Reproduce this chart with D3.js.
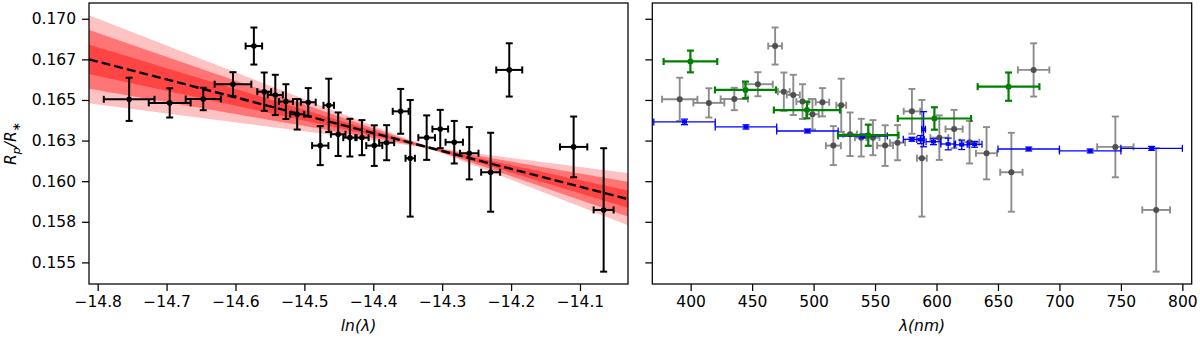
<!DOCTYPE html>
<html>
<head>
<meta charset="utf-8">
<script src="https://cdn.jsdelivr.net/npm/d3@7"></script>
<style>
  body { margin: 0; background: #fff; }
  text { font-family: "DejaVu Sans", sans-serif; }
</style>
</head>
<body>
<div id="chart"></div>
<script>
/*
 * Data
 */

// transit depth per spectral bin (nm, half width nm, Rp/R*, error)
const wavelength = [391.1, 414.8, 435.5, 454.7, 468.7, 475.8, 483.5, 491.0, 499.1, 507.2,
  516.1, 522.5, 529.7, 538.8, 548.3, 558.2, 568.3, 580.0, 588.1, 602.3,
  614.3, 626.9, 640.7, 660.9, 679.0, 745.5, 778.7]
const binHalf = [14.4, 12.6, 11.1, 12.1, 5.6, 4.8, 5.3, 5.0, 5.1, 5.5,
  6.1, 4.0, 5.6, 5.2, 5.3, 6.5, 6.2, 6.7, 4.0, 7.3,
  7.0, 7.9, 8.6, 9.1, 12.8, 14.8, 11.3]
const radius = [0.16504, 0.16482, 0.16506, 0.16597, 0.16832, 0.16551, 0.16531, 0.16490, 0.16412, 0.16486,
  0.16219, 0.16467, 0.16289, 0.16268, 0.16268, 0.16219, 0.16237, 0.16430, 0.16141, 0.16268,
  0.16321, 0.16240, 0.16172, 0.16055, 0.16685, 0.16211, 0.15823]
const radiusErr = [0.00133, 0.00090, 0.00069, 0.00074, 0.00114, 0.00118, 0.00124, 0.00107, 0.00094, 0.00087,
  0.00120, 0.00164, 0.00134, 0.00116, 0.00108, 0.00125, 0.00108, 0.00138, 0.00359, 0.00137,
  0.00118, 0.00131, 0.00161, 0.00243, 0.00164, 0.00187, 0.00380]

// blue comparison set
const blueWl = [395, 445, 495, 540, 580, 587, 589.5, 597.5, 609.5, 620.5, 631, 675, 725, 775]
const blueHalf = [25, 25, 25, 20, 7, 3, 1.5, 6, 6, 6, 6, 25, 25, 25]
const blueR = [0.16365, 0.16334, 0.16309, 0.16278, 0.16258, 0.16256, 0.16320, 0.16243, 0.16229, 0.16224, 0.16227, 0.16198, 0.16186, 0.16202]
const blueErr = [0.00017, 0.00013, 0.00012, 0.00012, 0.00012, 0.00025, 0.00108, 0.00018, 0.00036, 0.00029, 0.00018, 0.00012, 0.00012, 0.00012]

// green comparison set
const greenWl = [399.8, 444.6, 494.6, 544.5, 598.3, 658.6]
const greenHalf = [21.8, 24.8, 26.9, 24.6, 29.8, 25.1]
const greenR = [0.16737, 0.16562, 0.16438, 0.16283, 0.16386, 0.16582]
const greenErr = [0.00067, 0.00051, 0.00051, 0.00065, 0.00069, 0.00087]

// linear fit in ln(lambda)
const fitPivot = -14.3209
const fitAtPivot = 0.16209
const fitSlope = -0.011006
const fitSigmaSlope = 0.001836
const fitSigmaPivot = 0.00003

const yTicks = [0.155, 0.1575, 0.16, 0.1625, 0.165, 0.1675, 0.17]
const yTickLabels = ['0.155', '0.158', '0.160', '0.163', '0.165', '0.167', '0.170']
const lnTicks = [-14.8, -14.7, -14.6, -14.5, -14.4, -14.3, -14.2, -14.1]
const lnTickLabels = ['\u221214.8', '\u221214.7', '\u221214.6', '\u221214.5', '\u221214.4', '\u221214.3', '\u221214.2', '\u221214.1']
const nmTicks = [400, 450, 500, 550, 600, 650, 700, 750, 800]


/*
 * Layout
 */

const w = 1200
const h = 338
const plotTop = 3
const plotBottom = 284

const svg = d3.select('#chart')
  .append('svg')
  .attr('width', w)
  .attr('height', h)

const y = d3.scaleLinear().domain([0.15367, 0.17097]).range([plotBottom, plotTop])
const xLn = d3.scaleLinear().domain([-14.8126, -14.0303]).range([89, 628])
const xNm = d3.scaleLinear().domain([368.8, 807.6]).range([652.3, 1191.7])

const points = wavelength.map((wl, i) => ({
  wl: wl, half: binHalf[i], r: radius[i], err: radiusErr[i],
  ln: Math.log(wl * 1e-9), lnHalf: binHalf[i] / wl
}))
const blue = blueWl.map((wl, i) => ({ wl: wl, half: blueHalf[i], r: blueR[i], err: blueErr[i] }))
const green = greenWl.map((wl, i) => ({ wl: wl, half: greenHalf[i], r: greenR[i], err: greenErr[i] }))


function errorbars(g, data, xs, xv, xh, style) {
  const sel = g.append('g').selectAll('g')
    .data(data)
    .enter()
    .append('g')
    .style('stroke', style.color)
    .style('stroke-width', style.width)
    .style('opacity', style.opacity || 1)
  // horizontal bar + caps
  sel.append('line')
    .attr('x1', d => xs(xv(d) - xh(d))).attr('x2', d => xs(xv(d) + xh(d)))
    .attr('y1', d => y(d.r)).attr('y2', d => y(d.r))
  sel.append('line')
    .attr('x1', d => xs(xv(d) - xh(d))).attr('x2', d => xs(xv(d) - xh(d)))
    .attr('y1', d => y(d.r) - style.cap).attr('y2', d => y(d.r) + style.cap)
  sel.append('line')
    .attr('x1', d => xs(xv(d) + xh(d))).attr('x2', d => xs(xv(d) + xh(d)))
    .attr('y1', d => y(d.r) - style.cap).attr('y2', d => y(d.r) + style.cap)
  // vertical bar + caps
  sel.append('line')
    .attr('x1', d => xs(xv(d))).attr('x2', d => xs(xv(d)))
    .attr('y1', d => y(d.r - d.err)).attr('y2', d => y(d.r + d.err))
  sel.append('line')
    .attr('x1', d => xs(xv(d)) - style.cap).attr('x2', d => xs(xv(d)) + style.cap)
    .attr('y1', d => y(d.r - d.err)).attr('y2', d => y(d.r - d.err))
  sel.append('line')
    .attr('x1', d => xs(xv(d)) - style.cap).attr('x2', d => xs(xv(d)) + style.cap)
    .attr('y1', d => y(d.r + d.err)).attr('y2', d => y(d.r + d.err))
  return sel
}


/*
 * Left panel: ln(lambda)
 */

const left = svg.append('g')

// confidence bands, drawn outer to inner
const lnGrid = d3.range(0, 101).map(i => xLn.domain()[0] + i / 100 * (xLn.domain()[1] - xLn.domain()[0]))
const fitAt = x => fitAtPivot + fitSlope * (x - fitPivot)
const fitSig = x => Math.sqrt(fitSigmaPivot ** 2 + (fitSigmaSlope * (x - fitPivot)) ** 2)
const bandColors = ['#ffc2c2', '#ff7474', '#ff4444']
;[3, 2, 1].forEach((k, i) => {
  left.append('path')
    .datum(lnGrid)
    .attr('d', d3.area()
      .x(d => xLn(d))
      .y0(d => y(fitAt(d) - k * fitSig(d)))
      .y1(d => y(fitAt(d) + k * fitSig(d))))
    .style('fill', bandColors[i])
})

left.append('line')
  .attr('x1', xLn(xLn.domain()[0])).attr('x2', xLn(xLn.domain()[1]))
  .attr('y1', y(fitAt(xLn.domain()[0]))).attr('y2', y(fitAt(xLn.domain()[1])))
  .style('stroke', '#000')
  .style('stroke-width', 2.4)
  .style('stroke-dasharray', '9,4')

const blk = errorbars(left, points, xLn, d => d.ln, d => d.lnHalf, { color: '#000', width: 2, cap: 3.5 })
blk.append('circle')
  .attr('cx', d => xLn(d.ln)).attr('cy', d => y(d.r)).attr('r', 2.8)
  .style('fill', '#000').style('stroke', 'none')


/*
 * Right panel: lambda in nm
 */

const right = svg.append('g')

const gry = errorbars(right, points, xNm, d => d.wl, d => d.half, { color: '#808080', width: 1.9, cap: 3.5, opacity: 0.9 })
gry.append('circle')
  .attr('cx', d => xNm(d.wl)).attr('cy', d => y(d.r)).attr('r', 3)
  .style('fill', '#3c3c3c').style('stroke', 'none')

const blu = errorbars(right, blue, xNm, d => d.wl, d => d.half, { color: '#0000ff', width: 1.3, cap: 3.5 })
blu.append('rect')
  .attr('x', d => xNm(d.wl) - 2.5).attr('y', d => y(d.r) - 1.8)
  .attr('width', 5).attr('height', 3.6)
  .style('fill', '#0000ff').style('stroke', 'none')

const grn = errorbars(right, green, xNm, d => d.wl, d => d.half, { color: '#008000', width: 2.2, cap: 3.5 })
grn.append('circle')
  .attr('cx', d => xNm(d.wl)).attr('cy', d => y(d.r)).attr('r', 3)
  .style('fill', '#008000').style('stroke', 'none')


/*
 * Axes and frames
 */

function frame(xs) {
  const [x0, x1] = xs.range()
  svg.append('rect')
    .attr('x', x0).attr('y', plotTop)
    .attr('width', x1 - x0).attr('height', plotBottom - plotTop)
    .style('fill', 'none').style('stroke', '#000').style('stroke-width', 1.25)
}

function styleAxis(g) {
  g.select('.domain').remove()
  g.selectAll('.tick line').style('stroke', '#000').style('stroke-width', 1.25)
  g.selectAll('.tick text')
    .style('font-family', '"DejaVu Sans", sans-serif')
    .style('font-size', '15.5px')
    .style('fill', '#000')
}

frame(xLn)
frame(xNm)

svg.append('g')
  .attr('transform', `translate(${xLn.range()[0]},0)`)
  .call(d3.axisLeft(y).tickValues(yTicks).tickSize(7).tickPadding(6)
    .tickFormat((d, i) => yTickLabels[i]))
  .call(styleAxis)

svg.append('g')
  .attr('transform', `translate(${xNm.range()[0]},0)`)
  .call(d3.axisLeft(y).tickValues(yTicks).tickSize(7).tickFormat(''))
  .call(styleAxis)

svg.append('g')
  .attr('transform', `translate(0,${plotBottom})`)
  .call(d3.axisBottom(xLn).tickValues(lnTicks).tickSize(7).tickPadding(5)
    .tickFormat((d, i) => lnTickLabels[i]))
  .call(styleAxis)

svg.append('g')
  .attr('transform', `translate(0,${plotBottom})`)
  .call(d3.axisBottom(xNm).tickValues(nmTicks).tickSize(7).tickPadding(5)
    .tickFormat(d3.format('d')))
  .call(styleAxis)

// axis labels
const xlab1 = svg.append('text')
  .attr('x', (xLn.range()[0] + xLn.range()[1]) / 2).attr('y', 331)
  .attr('text-anchor', 'middle')
  .style('font-size', '15.5px').style('font-style', 'italic')
xlab1.append('tspan').text('ln(')
xlab1.append('tspan').text('\u03bb')
xlab1.append('tspan').text(')')

const xlab2 = svg.append('text')
  .attr('x', (xNm.range()[0] + xNm.range()[1]) / 2).attr('y', 331)
  .attr('text-anchor', 'middle')
  .style('font-size', '15.5px').style('font-style', 'italic')
  .text('\u03bb(nm)')

const ylab = svg.append('text')
  .attr('transform', `translate(16,${(plotTop + plotBottom) / 2}) rotate(-90)`)
  .attr('text-anchor', 'middle')
  .style('font-size', '15.5px').style('font-style', 'italic')
ylab.append('tspan').text('R')
ylab.append('tspan').attr('dy', 3.5).style('font-size', '11px').text('p')
ylab.append('tspan').attr('dy', -3.5).text('/R')
ylab.append('tspan').attr('dy', 3.5).style('font-size', '11px').style('font-style', 'normal').text('\u2217')
</script>
</body>
</html>
